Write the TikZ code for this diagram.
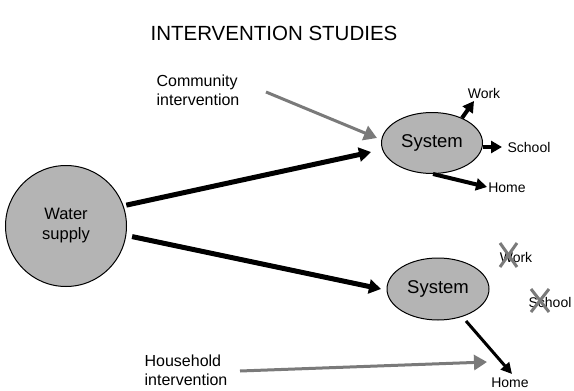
\documentclass[tikz,border=0pt]{standalone}
\usepackage{fontspec}
\setmainfont{Liberation Sans}
\usetikzlibrary{arrows.meta,shapes.geometric}
\definecolor{fillgray}{HTML}{B4B4B4}
\definecolor{arrgray}{HTML}{7A7A7A}
\begin{document}
\begin{tikzpicture}[x=1pt,y=-1pt,
  blob/.style={draw=black,line width=1pt,fill=fillgray,ellipse,inner sep=0pt},
  lbl/.style={font=\fontsize{16}{19}\selectfont,align=left,inner sep=0pt},
  small/.style={font=\fontsize{14}{16}\selectfont,inner sep=0pt},
  bigarrow/.style={line width=5pt,-{Triangle[length=12pt,width=14pt]}},
  thinarrow/.style={line width=4pt,-{Triangle[length=11pt,width=12pt]}},
  grayarrow/.style={draw=arrgray,line width=3pt,-{Triangle[length=13pt,width=15pt]}},
  cross/.style={draw=arrgray,line width=3pt}]
\useasboundingbox (0,0) rectangle (574,391);
\node[font=\fontsize{20.5}{24}\selectfont,inner sep=0pt] (title) at (274,33) {INTERVENTION STUDIES};
\node[blob,circle,minimum size=121pt,align=center,font=\fontsize{16.5}{20}\selectfont] (ws) at (66,226) {Water\\supply};
\node[blob,minimum width=101pt,minimum height=61pt,font=\fontsize{18.5}{22}\selectfont] (s1) at (432,143) {System};
\node[blob,minimum width=102pt,minimum height=62pt,font=\fontsize{18.5}{22}\selectfont] (s2) at (438,289) {System};
\node[lbl] (ci) at (198,90) {Community\\intervention};
\node[lbl] (hi) at (186,370) {Household\\intervention};
\node[small] (w1) at (484,93) {Work};
\node[small] (sc1) at (529,147) {School};
\node[small] (h1) at (507,188) {Home};
\node[small] (w2) at (516,257) {Work};
\node[small] (sc2) at (550,302) {School};
\node[small] (h2) at (510,383) {Home};
% crosses
\coordinate (xa1) at (500,243); \coordinate (xa2) at (517,267);
\coordinate (xa3) at (517,243); \coordinate (xa4) at (500,267);
\draw[cross] (xa1) -- (xa2); \draw[cross] (xa3) -- (xa4);
\coordinate (xb1) at (531,289); \coordinate (xb2) at (549,312);
\coordinate (xb3) at (549,289); \coordinate (xb4) at (531,312);
\draw[cross] (xb1) -- (xb2); \draw[cross] (xb3) -- (xb4);
% main arrows
\coordinate (e1) at (371,152);
\coordinate (e2) at (381,289);
\draw[bigarrow] (ws.20) ++(3,0) -- (e1);
\draw[bigarrow] (ws.-10) ++(6,0) -- (e2);
% gray arrows
\coordinate (g1s) at (266,92);
\coordinate (g1e) at (377,138);
\draw[grayarrow] (g1s) -- (g1e);
\coordinate (g2s) at (240,371);
\coordinate (g2e) at (487,362);
\draw[grayarrow] (g2s) -- (g2e);
% outcome arrows
\coordinate (a1s) at (462,118); \coordinate (a1e) at (474,101);
\draw[thinarrow] (a1s) -- (a1e);
\coordinate (a2s) at (483,147); \coordinate (a2e) at (502,147);
\draw[thinarrow] (a2s) -- (a2e);
\coordinate (a3s) at (433,174); \coordinate (a3e) at (487,187);
\draw[thinarrow] (a3s) -- (a3e);
\coordinate (a4s) at (466,321); \coordinate (a4e) at (512,374);
\draw[line width=3pt,-{Triangle[length=11pt,width=11pt]}] (a4s) -- (a4e);
\end{tikzpicture}
\end{document}
